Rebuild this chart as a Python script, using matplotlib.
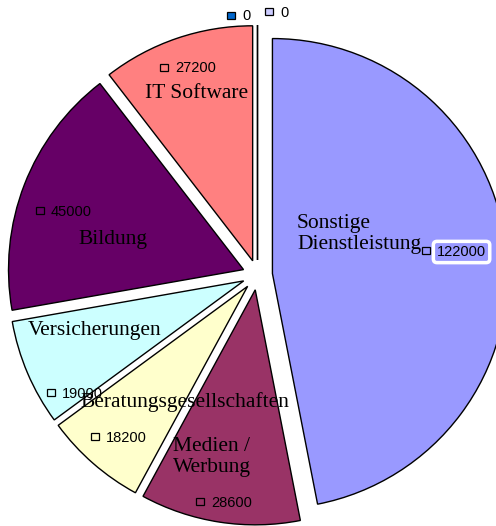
import matplotlib
matplotlib.use("Agg")
import matplotlib.pyplot as plt
from matplotlib.patches import Rectangle

# data (clockwise from 12 o'clock)
names = ["Sonstige\nDienstleistung", "Medien /\nWerbung", "Beratungsgesellschaften",
         "Versicherungen", "Bildung", "IT Software", "", ""]
values = [122000, 28600, 18200, 19000, 45000, 27200, 0, 0]
colors = ["#9999FF", "#993366", "#FFFFCC", "#CCFFFF", "#660066", "#FF8080", "#0066CC", "#CCCCFF"]

W, H = 496, 526
def py(y):
    return H - y

# layout (pixel positions, top-left origin); multiline names use last baseline
cx, cy, R, gap = 257.5, 275, 235, 15
name_pos = [(297, 249), (173, 472), (80, 407), (28, 335), (78, 244), (145, 98), None, None]
val_pos = [(437, 256), (211, 507), (106, 442), (62, 398), (51, 216), (175, 72.5), (242, 20.5), (280, 17)]

fig = plt.figure(figsize=(W / 100, H / 100), dpi=100)
ax = fig.add_axes([0, 0, 1, 1])
ax.pie(values, colors=colors, startangle=90, counterclock=False,
       center=(cx, py(cy)), radius=R, explode=[gap] * len(values),
       wedgeprops=dict(edgecolor="black", linewidth=1.0))
ax.set_xlim(0, W)
ax.set_ylim(0, H)
ax.set_aspect("auto")
ax.axis("off")

for n, p in zip(names, name_pos):
    if p is None:
        continue
    ax.text(p[0], py(p[1]), n, family="Liberation Serif", fontsize=15.5,
            ha="left", va="baseline", multialignment="left", linespacing=1.15)

for v, c, p in zip(values, colors, val_pos):
    box = None
    if v == max(values):
        box = dict(boxstyle="round,pad=0.25", fc=c, ec="white", lw=2.5)
    ax.text(p[0], py(p[1]), str(v), family="Liberation Sans", fontsize=10.5,
            ha="left", va="baseline", bbox=box, zorder=5)
    ax.add_patch(Rectangle((p[0] - 15, py(p[1] - 2)), 8, 7, fc=c, ec="black",
                           lw=0.9, zorder=5))

fig.savefig("out.png", dpi=100)
